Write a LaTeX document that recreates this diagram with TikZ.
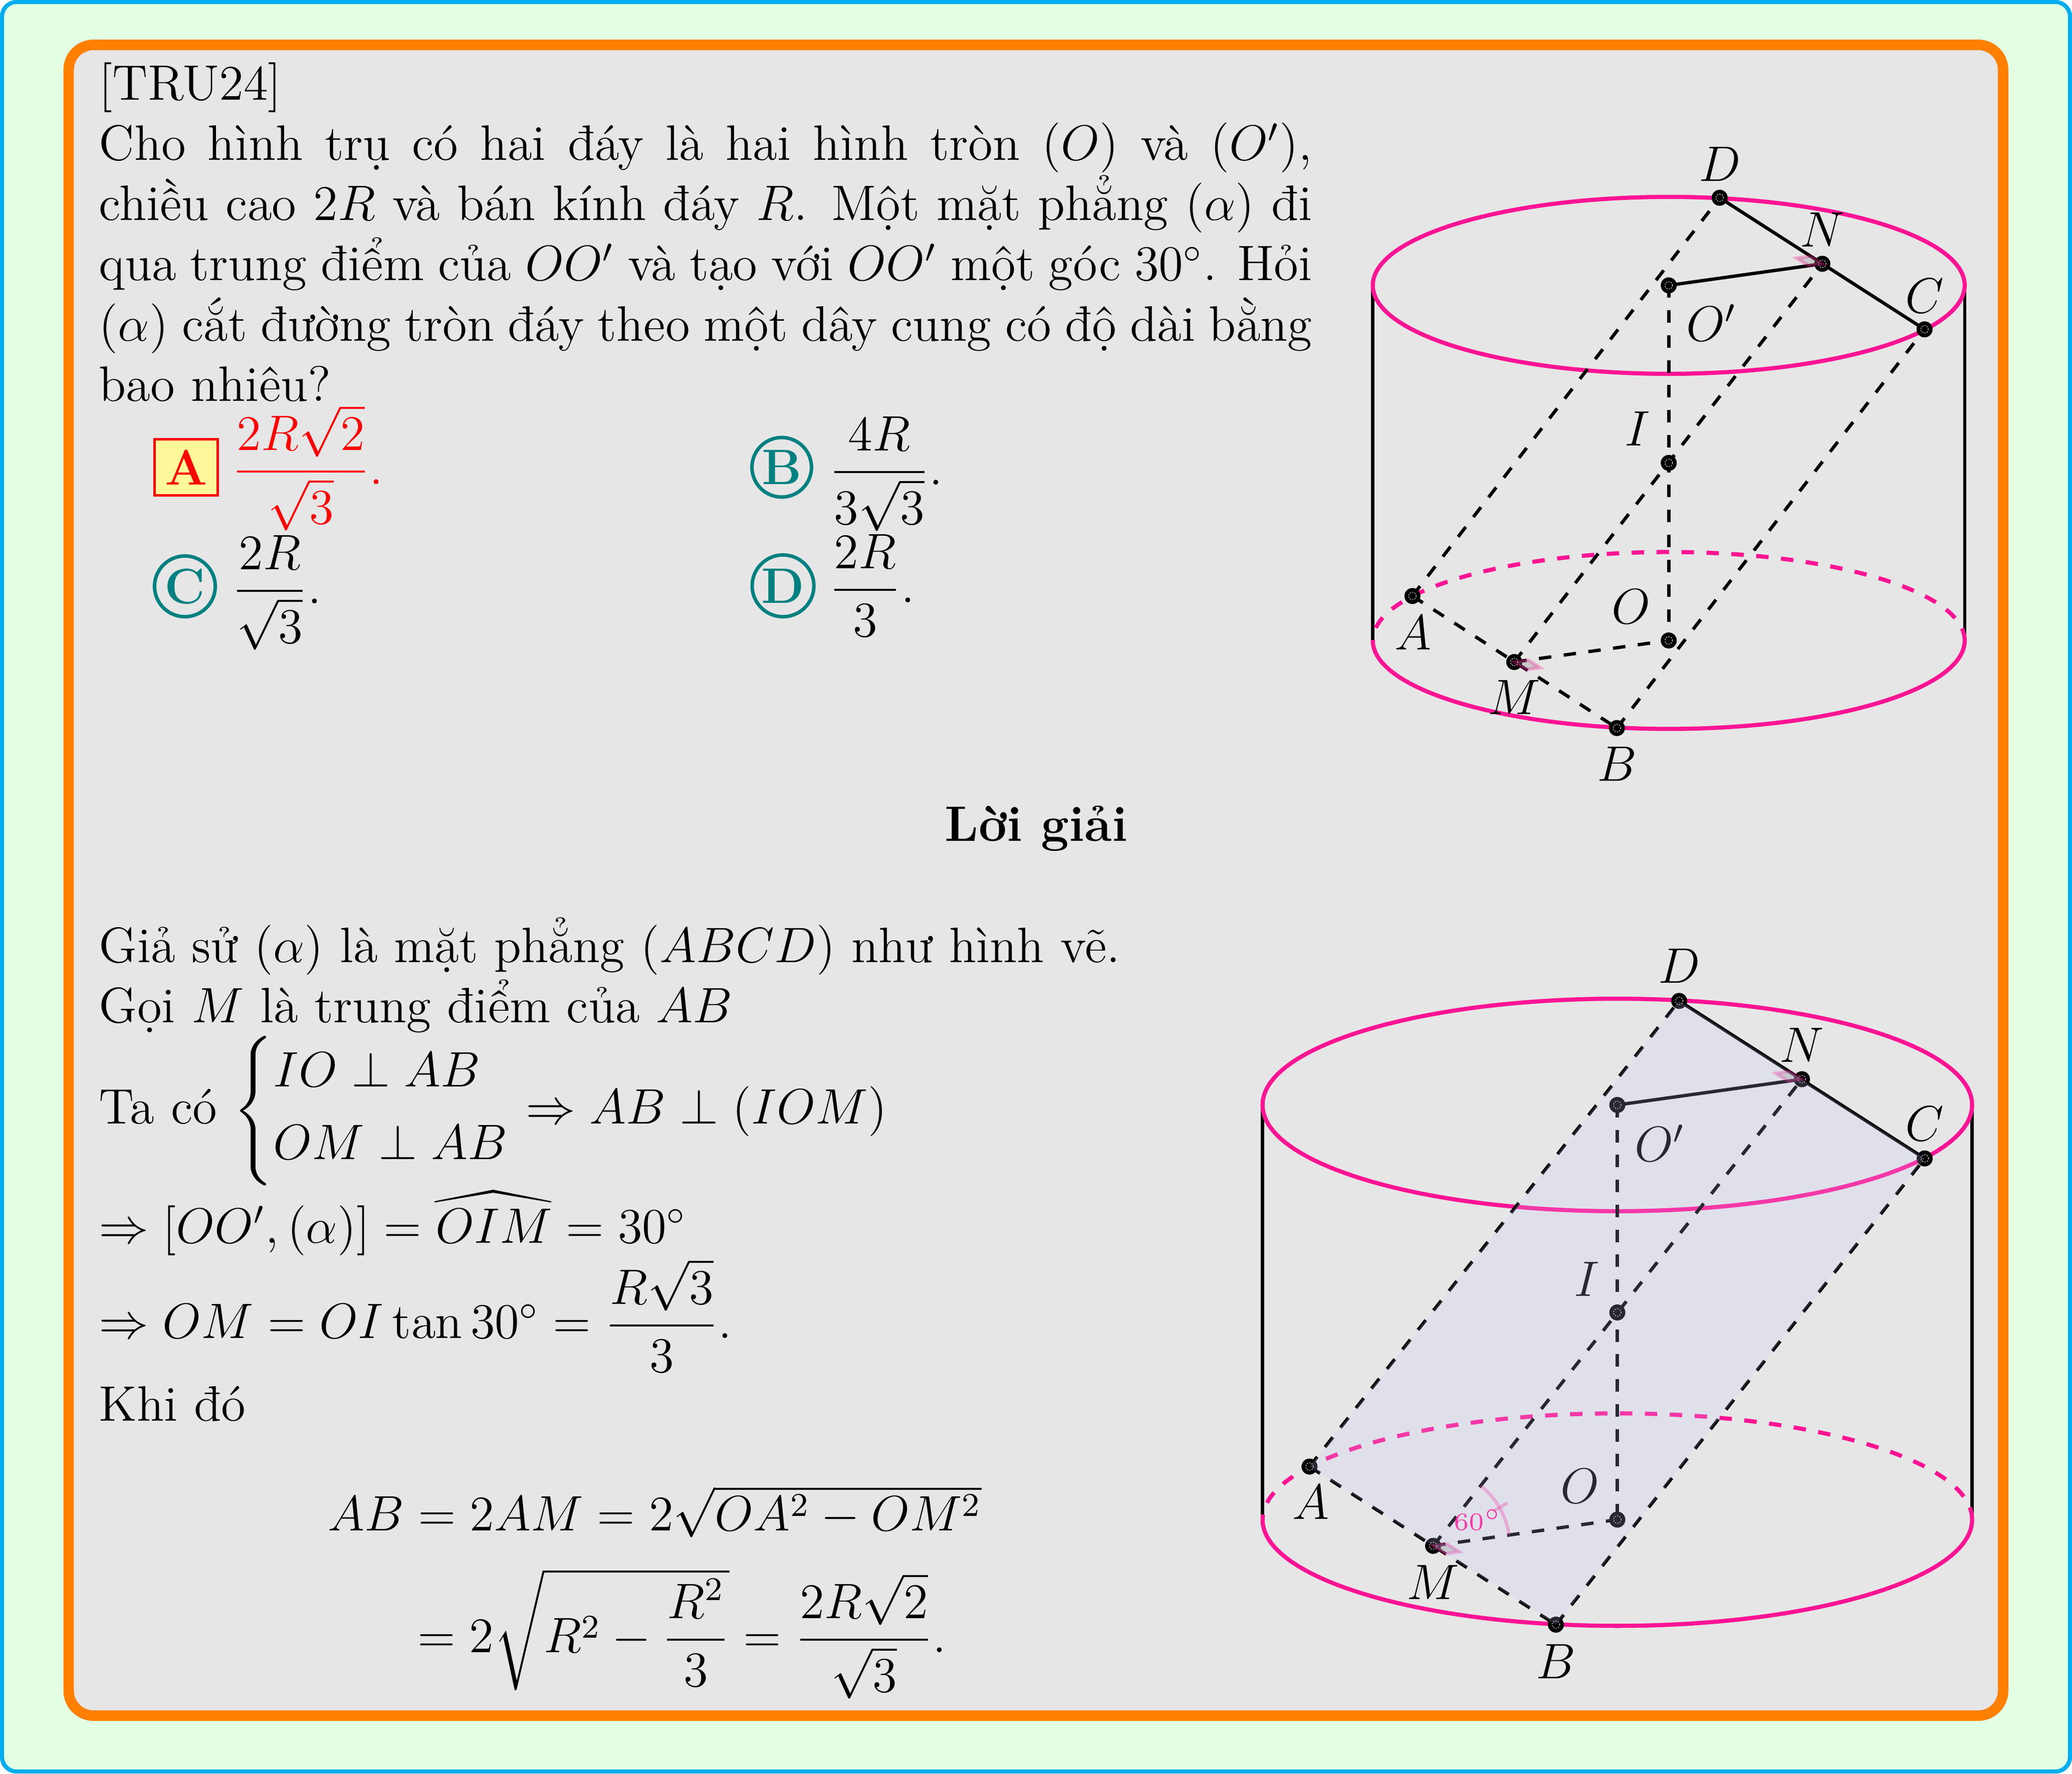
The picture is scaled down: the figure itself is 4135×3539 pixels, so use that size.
\documentclass[12pt,tikz,border=0pt]{standalone}
\usepackage{amsmath}
\usepackage{tikz}
\usetikzlibrary{calc}
\definecolor{deeppk}{RGB}{255,20,147}
\definecolor{framebl}{RGB}{0,174,239}
\definecolor{frameor}{RGB}{255,128,0}
\definecolor{paperg}{RGB}{227,255,227}
\definecolor{panel}{RGB}{230,230,230}
\definecolor{tealc}{RGB}{0,128,128}
\definecolor{boxy}{RGB}{255,247,153}
\definecolor{planec}{RGB}{200,200,250}
\tikzset{
  pinkln/.style={deeppk, line width=1pt},
  blackln/.style={black, line width=0.8pt},
  ptlabel/.style={inner sep=0pt},
  txt/.style={anchor=base west, inner sep=0pt},
  optround/.style={circle, draw=tealc, text=tealc, line width=0.85pt, inner sep=0.6pt, font=\bfseries},
  optbox/.style={rectangle, draw=red, fill=boxy, text=red, line width=0.6pt, minimum width=15.3pt, minimum height=13.4pt, inner sep=0pt, font=\bfseries},
  markfade/.style={draw=deeppk, fill=gray, opacity=0.3, line width=0.8pt}
}
\begin{document}
\begin{tikzpicture}[x=0.1206pt, y=0.1206pt]
  \path [use as bounding box] (0,0) rectangle (4135,-3539);
  % frames
  \draw [framebl, fill=paperg, line width=1pt, rounded corners=3.5pt] (4,-4) rectangle (4131,-3535);
  \draw [frameor, fill=panel, line width=2.53pt, rounded corners=6pt] (137,-89.5) rectangle (3997.5,-3423.5);
  % points of the two cylinders
  \coordinate (Aa) at (2818.7,-1189.3);
  \coordinate (Ba) at (3226.8,-1452.8);
  \coordinate (Ca) at (3840.7,-657.2);
  \coordinate (Da) at (3431.8,-394.6);
  \coordinate (Ma) at (3021.9,-1321);
  \coordinate (Na) at (3636.7,-526.4);
  \coordinate (Oa) at (3330.2,-1278);
  \coordinate (Pa) at (3330.2,-569.4);
  \coordinate (Ia) at (3330.2,-923.7);
  \coordinate (Ab) at (2613.3,-2926.5);
  \coordinate (Bb) at (3105,-3241.9);
  \coordinate (Cb) at (3841,-2311.6);
  \coordinate (Db) at (3351,-1997.3);
  \coordinate (Mb) at (2860,-3084.7);
  \coordinate (Nb) at (3596,-2153.5);
  \coordinate (Ob) at (3227.6,-3032.3);
  \coordinate (Pb) at (3227.6,-2204.9);
  \coordinate (Ib) at (3227.6,-2619);
  \foreach \f/\rx/\ry/\u/\v in {a/590.6/176.5/.09/.115, b/708/212/.075/.1} {
    \draw [blackln] ($(P\f)+(-\rx,0)$) -- ($(O\f)+(-\rx,0)$);
    \draw [blackln] ($(P\f)+(\rx,0)$) -- ($(O\f)+(\rx,0)$);
    \draw [pinkln] (P\f) ellipse [x radius=\rx, y radius=\ry];
    \draw [pinkln] ($(O\f)+(-\rx,0)$) arc [start angle=180, end angle=360, x radius=\rx, y radius=\ry];
    \draw [pinkln, dashed] ($(O\f)+(\rx,0)$) arc [start angle=0, end angle=180, x radius=\rx, y radius=\ry];
    \draw [blackln, dashed] (A\f) -- (D\f);
    \draw [blackln, dashed] (B\f) -- (C\f);
    \draw [blackln, dashed] (M\f) -- (N\f);
    \draw [blackln, dashed] (P\f) -- (O\f);
    \draw [blackln, dashed] (A\f) -- (B\f);
    \draw [blackln, dashed] (M\f) -- (O\f);
    \draw [blackln] (D\f) -- (C\f);
    \draw [blackln] (P\f) -- (N\f);
    \foreach \p in {A,B,C,D,M,N,O,P,I} {
      \fill (\p\f) circle [radius=16];
      \draw [white, line width=0.12pt, dash pattern=on 0.3pt off 0.3pt] (\p\f) circle [radius=7.5];
    }
    \draw [markfade] (M\f) -- ($(M\f)!\u!(O\f)$) -- ($(M\f)!\u!(O\f)+(M\f)!\v!(B\f)-(M\f)$) -- ($(M\f)!\v!(B\f)$) -- cycle;
    \draw [markfade] (N\f) -- ($(N\f)!\u!(P\f)$) -- ($(N\f)!\u!(P\f)+(N\f)!\v!(D\f)-(N\f)$) -- ($(N\f)!\v!(D\f)$) -- cycle;
  }
  % labels of the first cylinder
  \node [ptlabel] (lDa) at (3432,-327) {$D$};
  \node [ptlabel] (lNa) at (3637,-458) {$N$};
  \node [ptlabel] (lCa) at (3841,-590) {$C$};
  \node [ptlabel] (lPa) at (3416,-644) {$O'$};
  \node [ptlabel] (lIa) at (3268,-855) {$I$};
  \node [ptlabel] (lOa) at (3255,-1210) {$O$};
  \node [ptlabel] (lAa) at (2820,-1262) {$A$};
  \node [ptlabel] (lMa) at (3022,-1391) {$M$};
  \node [ptlabel] (lBa) at (3227,-1524) {$B$};
  % labels of the second cylinder
  \node [ptlabel] (lDb) at (3351,-1927) {$D$};
  \node [ptlabel] (lNb) at (3596,-2085) {$N$};
  \node [ptlabel] (lCb) at (3841,-2242) {$C$};
  \node [ptlabel] (lPb) at (3313,-2281) {$O'$};
  \node [ptlabel] (lIb) at (3167,-2552) {$I$};
  \node [ptlabel] (lOb) at (3153,-2965) {$O$};
  \node [ptlabel] (lAb) at (2616,-2997) {$A$};
  \node [ptlabel] (lMb) at (2860,-3157) {$M$};
  \node [ptlabel] (lBb) at (3105,-3315) {$B$};
  % angle at M
  \draw [deeppk, opacity=0.3, line width=0.8pt] ($(Mb)+(8:153)$) arc [start angle=8, end angle=51.6, radius=153];
  \draw [deeppk, opacity=0.3, line width=0.8pt] ($(Mb)+(30:138)$) -- ($(Mb)+(30:171)$);
  \node [ptlabel, text=deeppk, font=\tiny] (lang) at (2949,-3033) {$60^\circ$};
  % plane
  \fill [planec, opacity=0.2] (Ab) -- (Bb) -- (Cb) -- (Db) -- cycle;
  % statement
  \node [anchor=north west, inner sep=0pt] (stmt) at (196,-123) {\parbox{292pt}{[TRU24]\\
    Cho hình trụ có hai đáy là hai hình tròn $(O)$ và $(O')$,\linebreak
    chiều cao $2R$ và bán kính đáy $R$. Một mặt phẳng $(\alpha)$ đi\linebreak
    qua trung điểm của $OO'$ và tạo với $OO'$ một góc $30^\circ$. Hỏi\linebreak
    $(\alpha)$ cắt đường tròn đáy theo một dây cung có độ dài bằng\linebreak
    bao nhiêu?}};
  % answers
  \node [optbox] (optA) at (371.5,-932.5) {A};
  \node [optround] (optB) at (1560,-932.4) {B};
  \node [optround] (optC) at (369,-1170) {C};
  \node [optround] (optD) at (1562.6,-1169) {D};
  \node [txt, text=red] (ansA) at (461,-966) {$\dfrac{2R\sqrt{2}}{\sqrt{3}}.$};
  \node [txt] (ansB) at (1653,-967) {$\dfrac{4R}{3\sqrt{3}}.$};
  \node [txt] (ansC) at (461,-1204) {$\dfrac{2R}{\sqrt{3}}.$};
  \node [txt] (ansD) at (1653,-1202) {$\dfrac{2R}{3}.$};
  % solution
  \node [anchor=base, inner sep=0pt, font=\bfseries] (title) at (2068,-1678) {Lời giải};
  \node [txt] (sol1) at (196,-1920) {Giả sử $(\alpha)$ là mặt phẳng $(ABCD)$ như hình vẽ.};
  \node [txt] (sol2) at (196,-2040) {Gọi $M$ là trung điểm của $AB$};
  \node [txt] (sol3) at (196,-2242) {Ta có $\left\{\begin{aligned}&IO\perp AB\\ &OM\perp AB\end{aligned}\right.\Rightarrow AB\perp (IOM)$};
  \node [txt] (sol4) at (196,-2480) {$\Rightarrow [OO',(\alpha)]=OIM=30^\circ$};
  \fill (867,-2397) -- (984,-2374) -- (1100,-2397) -- (1100,-2399.5) -- (984,-2380) -- (867,-2399.5) -- cycle;
  \node [txt] (sol5) at (196,-2670) {$\Rightarrow OM=OI\tan 30^\circ=\dfrac{R\sqrt{3}}{3}.$};
  \node [txt] (sol6) at (196,-2835) {Khi đó};
  \node [txt] (eq1) at (653,-3054.5) {$AB=2AM=2\sqrt{OA^2-OM^2}$};
  \node [txt] (eq2) at (832,-3297) {$=2\sqrt{R^2-\dfrac{R^2}{3}}=\dfrac{2R\sqrt{2}}{\sqrt{3}}.$};
\end{tikzpicture}
\end{document}
